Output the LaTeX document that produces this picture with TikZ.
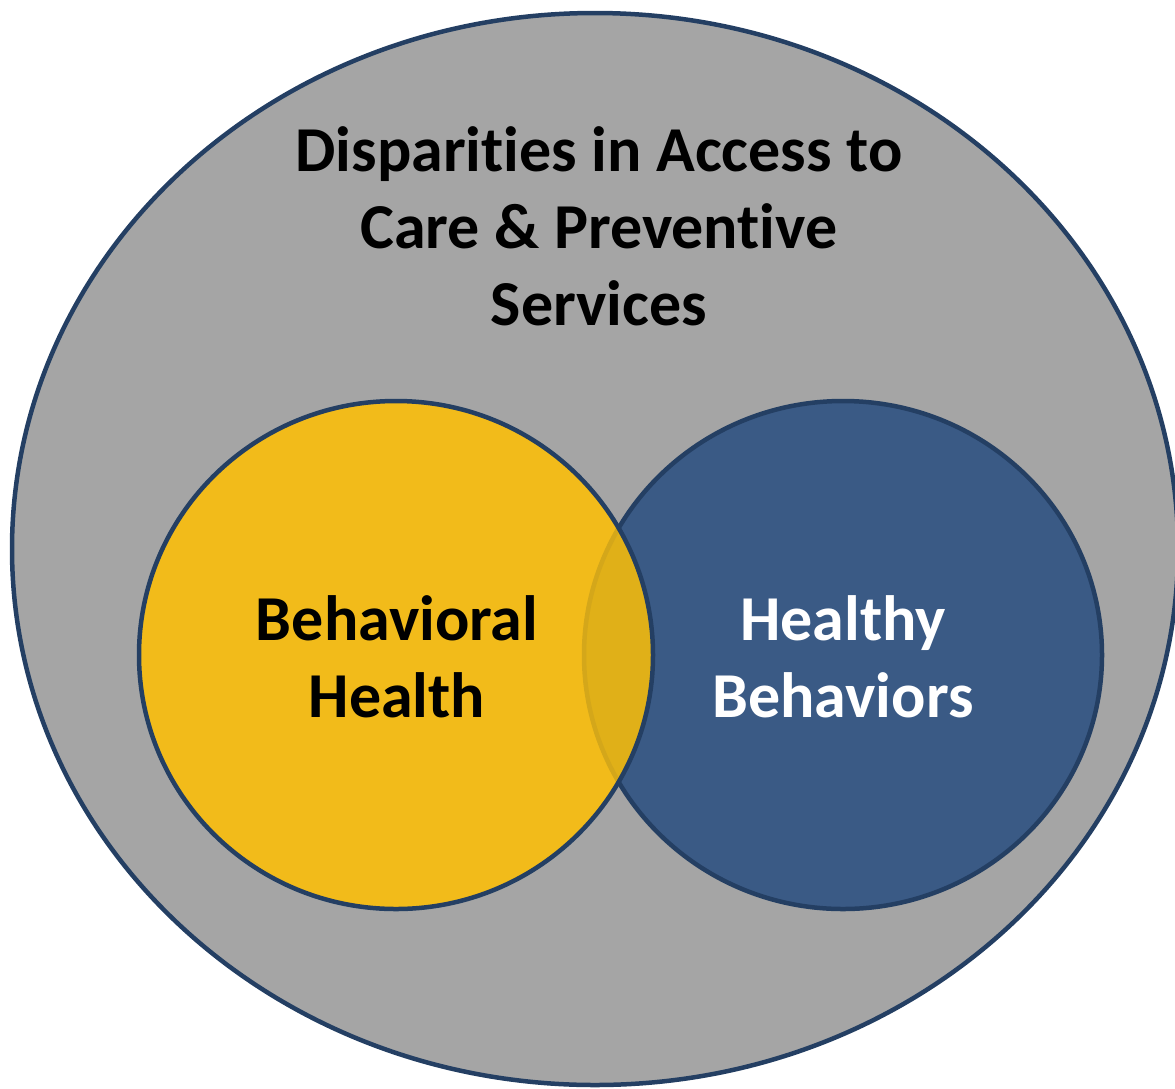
\documentclass[tikz,border=0pt]{standalone}
\usepackage{fontspec}
\setmainfont[Ligatures=CommonOff]{Carlito}
\definecolor{ringline}{HTML}{243F63}
\definecolor{outerfill}{HTML}{A5A5A5}
\definecolor{goldfill}{HTML}{F2BB1A}
\definecolor{bluefill}{HTML}{3A5A85}
\definecolor{overlapfill}{HTML}{E0B018}
\definecolor{overlapedge}{HTML}{D4A71A}
\tikzset{
  ring/.style={draw=ringline, line width=4.5pt},
  label/.style={align=center, font=\bfseries\fontsize{64}{77}\selectfont},
}
\begin{document}
\begin{tikzpicture}[x=1pt,y=-1pt]
\useasboundingbox (0,0) rectangle (1175,1088);
% outer field
\path[ring, fill=outerfill] (595,549) ellipse [x radius=583, y radius=536];
% right circle
\path[ring, fill=bluefill] (843,655) ellipse [x radius=259, y radius=254];
% left circle
\path[fill=goldfill] (396,655) ellipse [x radius=257, y radius=254];
% overlap lens, with the right circle's edge showing through faintly
\begin{scope}
  \clip (396,655) ellipse [x radius=257, y radius=254];
  \path[fill=overlapfill, draw=overlapedge, line width=4.5pt] (843,655) ellipse [x radius=259, y radius=254];
\end{scope}
\path[ring] (396,655) ellipse [x radius=257, y radius=254];
% labels
\node[label, text=black] (title) at (599,226) {Disparities in Access to\\Care \& Preventive\\Services};
\node[label, text=black] (bh) at (397,657) {Behavioral\\Health};
\node[label, text=white] (hb) at (843,657) {Healthy\\Behaviors};
\end{tikzpicture}
\end{document}
